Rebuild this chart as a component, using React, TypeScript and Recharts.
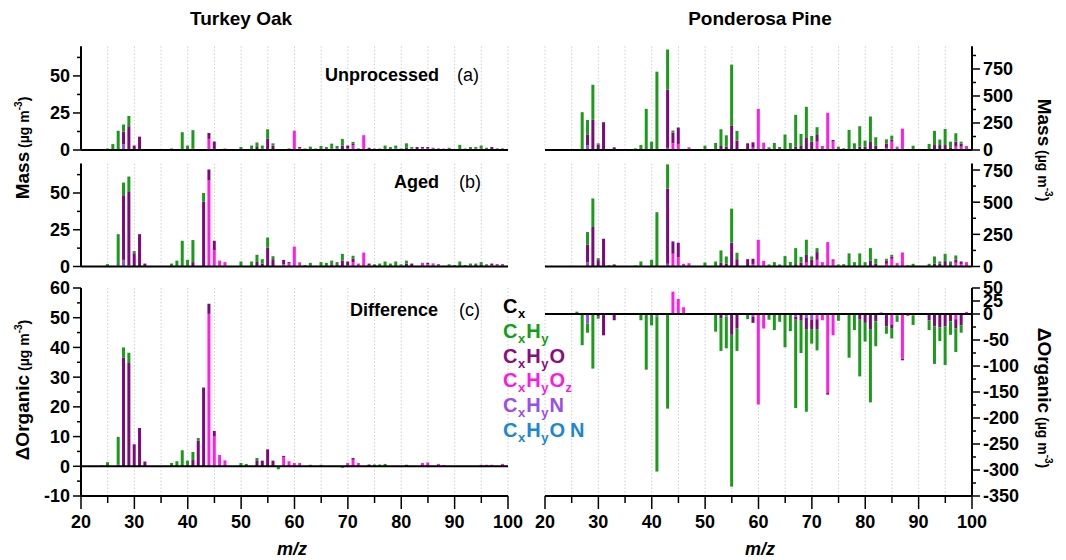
import React from "react";
import { BarChart, Bar, XAxis, YAxis, CartesianGrid, ReferenceLine } from "recharts";

// each row: m/z, CxHy, CxHyO, CxHyOz, CxHyN, CxHyON  (µg m-3)
type Row = [number, number, number, number, number, number];

const oakUnprocessed: Row[] = [
  [25, 1, 0, 0, 0, 0], [26, 4, 0, 0, 0, 0], [27, 13, 0, 0, 0, 0], [28, 4.8, 8.4, 0, 4, 0],
  [29, 7, 16, 0, 0, 0], [30, 0, 3, 0, 0, 0], [31, 0, 9, 0, 0, 0], [32, 0, 0.4, 0, 0, 0],
  [37, 1, 0, 0, 0, 0], [39, 12, 0, 0, 0, 0], [40, 3, 0, 0, 0, 0], [41, 12.4, 1, 0, 0, 0],
  [44, 0, 4, 7.5, 0, 0], [45, 0, 5, 0.7, 0, 0], [47, 0, 0, 1, 0, 0], [50, 2, 0, 0, 0, 0],
  [52, 3, 0, 0, 0, 0], [53, 3, 2, 0, 0, 0], [54, 2, 1, 0, 0, 0], [55, 6.5, 7.5, 0, 0, 0],
  [56, 1.5, 3, 0, 0, 0], [59, 0, 1, 0, 0, 0], [60, 0, 0, 13, 0, 0], [61, 0, 0.8, 1.2, 0, 0],
  [62, 1, 0, 0, 0, 0], [63, 2.3, 0, 0, 0, 0], [64, 1, 0, 0, 0, 0], [65, 2.7, 0, 0, 0, 0],
  [66, 2, 0, 0, 0, 0], [67, 3.3, 1, 0, 0, 0], [68, 1.7, 1, 0, 0, 0], [69, 4.5, 3, 0, 0, 0],
  [70, 0, 2, 1, 0, 0], [71, 1, 1.5, 3, 0, 0], [72, 0, 0.5, 0.5, 0, 0], [73, 0, 0, 10, 0, 0],
  [74, 0, 1.5, 0, 0, 0], [75, 0.5, 0.5, 0, 0, 0], [76, 1, 0, 0, 0, 0], [77, 3, 0, 0, 0, 0],
  [78, 2, 0, 0, 0, 0], [79, 2, 1, 0, 0, 0], [80, 1, 0, 0, 0, 0], [81, 3, 1.5, 0, 0, 0],
  [82, 1, 1, 0, 0, 0], [83, 0, 2, 0, 0, 0], [84, 0, 1, 1, 0, 0], [85, 0, 1, 1, 0, 0],
  [86, 0, 0.5, 1, 0, 0], [87, 0, 0.5, 0.5, 0, 0], [88, 0, 0, 1, 0, 0], [89, 1.5, 0, 0, 0, 0],
  [91, 3.5, 0, 0, 0, 0], [92, 1, 0, 0, 0, 0], [93, 1.5, 0.5, 0, 0, 0], [94, 1, 1, 0, 0, 0],
  [95, 2, 1, 0, 0, 0], [96, 1, 0.5, 0, 0, 0], [97, 0, 1.5, 0.5, 0, 0], [98, 0, 0.5, 0.5, 0, 0],
  [99, 0, 0.5, 0.5, 0, 0],
];

const oakAged: Row[] = [
  [24, 0.3, 0, 0, 0, 0], [25, 1.6, 0, 0, 0, 0], [27, 21, 0, 0, 1, 0], [28, 8.6, 44, 0, 4.5, 0],
  [29, 10.5, 50, 0, 0.7, 0], [30, 1.5, 9, 0, 0, 0], [31, 0, 22, 0, 0, 0], [32, 0, 2, 0, 0, 0],
  [37, 2, 0, 0, 0, 0], [38, 4, 0, 0, 0, 0], [39, 17.5, 0, 0, 0, 0], [40, 4, 0.5, 0, 0, 0],
  [41, 15, 3, 0, 0, 0], [43, 6, 44, 0, 0, 0], [44, 0, 7.5, 58, 0, 0.5], [45, 0, 6.5, 11, 0, 0],
  [46, 0, 0, 4, 0, 0], [47, 0, 0, 3, 0, 0], [49, 0.3, 0, 0, 0, 0], [50, 3.4, 0, 0, 0, 0],
  [52, 3.4, 0, 0, 0, 0], [53, 5, 3, 0, 0, 0], [54, 3, 2, 0, 0, 0], [55, 7, 12.7, 0, 0, 0],
  [56, 2, 5, 0, 0, 0], [58, 0, 3, 1.5, 0, 0], [59, 0, 1, 2, 0, 0], [60, 0, 0, 13.6, 0, 0],
  [61, 0, 0.7, 2, 0, 0], [62, 1, 0, 0, 0, 0], [63, 2.5, 0, 0, 0, 0], [64, 0.5, 0, 0, 0, 0],
  [65, 3, 0, 0, 0, 0], [66, 2.5, 0, 0, 0, 0], [67, 2.5, 1.5, 0, 0, 0], [68, 1.5, 1.5, 0, 0, 0],
  [69, 4.6, 4, 0, 0, 0], [70, 0, 2.4, 1, 0, 0], [71, 1.8, 2.5, 3, 0, 0], [72, 0, 0, 2, 0, 0],
  [73, 0, 0, 9.5, 0, 0], [74, 0, 1, 1, 0, 0], [75, 0.5, 1, 0, 0, 0], [76, 2, 0, 0, 0, 0],
  [77, 3.4, 0, 0, 0, 0], [78, 2, 0, 0, 0, 0], [79, 3.4, 0, 0, 0, 0], [80, 1, 0.5, 0, 0, 0],
  [81, 2, 2, 0, 0, 0], [82, 0, 2, 0, 0, 0], [84, 0, 0.5, 2, 0, 0], [85, 0, 1, 1.5, 0, 0],
  [86, 0, 0.5, 1.5, 0, 0], [87, 0, 0.5, 1, 0, 0], [88, 0.5, 0, 0, 0, 0], [89, 1.5, 0, 0, 0, 0],
  [90, 1, 0, 0, 0, 0], [91, 3.4, 0, 0, 0, 0], [92, 1, 0, 0, 0, 0], [93, 1.5, 0.5, 0, 0, 0],
  [94, 1, 1, 0, 0, 0], [95, 1.5, 1.5, 0, 0, 0], [96, 1, 0.5, 0, 0, 0], [97, 0, 1, 1, 0, 0],
  [98, 0, 0.5, 1, 0, 0], [99, 0, 0.5, 1, 0, 0],
];

const oakDifference: Row[] = [
  [24, 0.3, 0, 0, 0, 0], [25, 1.4, 0, 0, 0, 0], [27, 9.4, 0, 0, 0.5, 0], [28, 3.5, 36.5, 0, 0, 0],
  [29, 3.4, 34.8, 0, 0, 0], [30, 0, 7.4, 0, 0, 0], [31, 0, 12.9, 0, 0, 0], [32, 0, 1.6, 0, 0, 0],
  [37, 1.1, 0, 0, 0, 0], [38, 1.7, 0, 0, 0, 0], [39, 5.4, 0, 0, 0, 0], [40, 1.9, 0, 0, 0, 0],
  [41, 2.7, 2.1, 0, 0, 0], [42, 0.9, 8.6, 0, 0, 0], [43, 0, 26.5, 0, 0, 0], [44, 0, 3.4, 51, 0, 0.3],
  [45, 0, 1.9, 10, 0, 0], [46, 0, 0, 3.8, 0, 0], [47, 0, 0, 2, 0, 0], [50, 1.1, 0, 0, 0, 0],
  [51, 0.8, 0, 0, 0, 0], [53, 1, 1.8, 0, 0, 0], [54, 0, 1.9, 0, 0, 0], [55, 0, 5.7, 0, 0, 0],
  [56, 0, 1.9, 0, 0, 0], [57, -1, 0, 0, 0, 0], [58, 0, 0.5, 3, 0, 0], [59, 0, 0, 1.7, 0, 0],
  [60, 0, 0, 1.1, 0, 0], [61, 0, 0, 1.1, 0, 0], [63, 0.5, 0, 0, 0, 0], [65, 0.5, 0, 0, 0, 0],
  [69, -0.5, 0, 0, 0, 0], [70, 0, 0, 1.1, 0, 0], [71, 0, 0.6, 2.2, 0, 0], [72, 0, 0, 1.1, 0, 0],
  [74, 0, 0.6, 0, 0, 0], [75, 0.6, 0, 0, 0, 0], [76, 0.6, 0, 0, 0, 0], [77, 0.8, 0, 0, 0, 0],
  [81, 0, 0.5, 0, 0, 0], [84, 0, 0, 1.1, 0, 0], [85, 0, 0, 1.3, 0, 0], [87, 0, 0, 0.8, 0, 0],
  [88, 0, 0, 0.4, 0, 0], [95, 0, 0, 0.5, 0, 0], [96, 0, 0, 0.5, 0, 0], [97, 0, 0, 0.5, 0, 0],
  [99, 0, 0, 0.8, 0, 0],
];

const pineUnprocessed: Row[] = [
  [27, 350, 0, 0, 0, 0], [28, 133, 99, 0, 46, 0], [29, 325, 279, 0, 0, 0], [30, 10, 52, 0, 0, 0],
  [31, 0, 257, 0, 0, 0], [32, 0, 10, 0, 0, 0], [33, 0, 25, 0, 0, 0], [37, 15, 0, 0, 0, 0],
  [38, 46, 0, 0, 0, 0], [39, 381, 0, 0, 0, 0], [40, 70, 7, 0, 0, 0], [41, 725, 0, 0, 0, 0],
  [43, 372, 538, 0, 20, 0], [44, 19, 99, 62, 0, 0], [45, 0, 152, 56, 0, 0], [46, 0, 0, 10, 0, 0],
  [47, 0, 0, 25, 0, 0], [50, 40, 0, 0, 0, 0], [52, 65, 0, 0, 0, 0], [53, 155, 37, 0, 0, 0],
  [54, 105, 31, 0, 0, 0], [55, 567, 223, 0, 0, 0], [56, 90, 87, 0, 0, 0], [58, 0, 62, 0, 0, 0],
  [59, 0, 50, 21, 0, 0], [60, 0, 0, 381, 0, 0], [61, 0, 0, 68, 0, 0], [62, 25, 0, 0, 0, 0],
  [63, 65, 0, 0, 0, 0], [64, 28, 0, 0, 0, 0], [65, 143, 0, 0, 0, 0], [66, 65, 0, 0, 0, 0],
  [67, 295, 30, 0, 0, 0], [68, 112, 37, 0, 0, 0], [69, 282, 118, 0, 0, 0], [70, 53, 77, 0, 0, 0],
  [71, 72, 62, 77, 0, 0], [72, 0, 0, 37, 0, 0], [73, 0, 0, 344, 0, 0], [74, 0, 15, 78, 0, 0],
  [75, 15, 16, 0, 0, 0], [76, 16, 0, 0, 0, 0], [77, 186, 0, 0, 0, 0], [78, 62, 0, 0, 0, 0],
  [79, 190, 30, 0, 0, 0], [80, 57, 30, 0, 0, 0], [81, 236, 74, 0, 0, 0], [82, 78, 40, 0, 0, 0],
  [84, 39, 40, 20, 0, 0], [85, 36, 20, 77, 0, 0], [86, 0, 0, 31, 0, 0], [87, 0, 0, 198, 0, 0],
  [88, 0, 5, 5, 0, 0], [89, 40, 0, 0, 0, 0], [90, 5, 0, 0, 0, 0], [92, 56, 0, 0, 0, 0],
  [93, 131, 46, 0, 0, 0], [94, 50, 46, 0, 0, 0], [95, 149, 46, 0, 0, 0], [96, 52, 25, 0, 0, 0],
  [97, 78, 46, 31, 0, 0], [98, 17, 30, 30, 0, 0], [99, 0, 0, 37, 0, 0],
];

const pineAged: Row[] = [
  [25, 5, 0, 0, 0, 0], [28, 99, 135, 0, 34, 0], [29, 222, 307, 0, 0, 0], [30, 15, 50, 0, 0, 0],
  [31, 0, 216, 0, 0, 0], [32, 0, 8, 0, 0, 0], [33, 0, 16, 0, 0, 0], [37, 8, 0, 0, 0, 0],
  [38, 39, 0, 0, 0, 0], [40, 52, 0, 0, 0, 0], [41, 422, 0, 0, 0, 0], [43, 187, 586, 0, 21, 0],
  [44, 0, 96, 99, 0, 0], [45, 0, 112, 73, 0, 0], [46, 0, 0, 21, 0, 0], [47, 0, 0, 26, 0, 0],
  [50, 31, 0, 0, 0, 0], [52, 39, 0, 0, 0, 0], [53, 96, 29, 0, 0, 0], [54, 57, 21, 0, 0, 0],
  [55, 265, 185, 0, 0, 0], [56, 50, 57, 0, 0, 0], [58, 0, 57, 0, 0, 0], [59, 0, 40, 20, 0, 0],
  [60, 0, 0, 208, 0, 0], [61, 0, 0, 44, 0, 0], [62, 16, 0, 0, 0, 0], [63, 34, 0, 0, 0, 0],
  [64, 16, 0, 0, 0, 0], [65, 81, 0, 0, 0, 0], [66, 36, 0, 0, 0, 0], [67, 125, 18, 0, 0, 0],
  [68, 44, 31, 0, 0, 0], [69, 118, 60, 30, 0, 0], [70, 26, 52, 0, 0, 0], [71, 31, 60, 52, 0, 0],
  [72, 0, 0, 34, 0, 0], [73, 0, 0, 190, 0, 0], [74, 0, 10, 45, 0, 0], [75, 8, 8, 0, 0, 0],
  [76, 18, 0, 0, 0, 0], [77, 102, 0, 0, 0, 0], [78, 34, 0, 0, 0, 0], [79, 92, 10, 0, 0, 0],
  [80, 34, 0, 0, 0, 0], [81, 99, 44, 0, 0, 0], [82, 39, 21, 0, 0, 0], [84, 16, 23, 21, 0, 0],
  [85, 13, 18, 60, 0, 0], [86, 0, 0, 26, 0, 0], [87, 0, 0, 109, 0, 0], [88, 0, 4, 4, 0, 0],
  [89, 21, 0, 0, 0, 0], [90, 5, 0, 0, 0, 0], [92, 21, 0, 0, 0, 0], [93, 57, 21, 0, 0, 0],
  [94, 18, 21, 0, 0, 0], [95, 57, 42, 0, 0, 0], [96, 21, 18, 0, 0, 0], [97, 31, 26, 29, 0, 0],
  [98, 0, 19, 20, 0, 0], [99, 0, 0, 34, 0, 0],
];

const pineDifference: Row[] = [
  [26, 4.5, 0, 0, 0, 0], [27, -60, 0, 0, 0, 0], [28, -18, 0, 0, -18, 0], [29, -105, 0, 0, 0, 0],
  [30, -4, -5, 0, 0, 0], [31, 0, -41, 0, 0, 0], [33, 0, -12, 0, 0, 0], [37, -2, 0, 0, 0, 0],
  [38, -12, 0, 0, 0, 0], [39, -107, 0, 0, 0, 0], [40, -22, 0, 0, 0, 0], [41, -298, 0, 0, -5, 0],
  [43, -182, 0, 0, 0, 0], [44, 0, 0, 43, 0, 0], [45, 0, 0, 29, 0, 0], [46, 0, 0, 13, 0, 0],
  [52, -34, 0, 0, 0, 0], [53, -63, -8, 0, 0, 0], [54, -61, 0, 0, -5, 0], [55, -292, -40, 0, 0, 0],
  [56, -43, -28, 0, 0, 0], [58, -10, 0, 0, 0, 0], [59, 0, -12, -5, 0, 0], [60, 0, 0, -174, 0, 0],
  [61, 0, 0, -28, 0, 0], [62, -11, 0, 0, 0, 0], [63, -31, 0, 0, 0, 0], [64, -15, 0, 0, 0, 0],
  [65, -64, 0, 0, 0, 0], [66, -33, 0, 0, 0, 0], [67, -170, -6, 0, -5, 0], [68, -62, -13, 0, 0, 0],
  [69, -159, -22, 0, -7, 0], [70, -28, -18, 0, -11, 0], [71, -41, -19, -10, 0, 0], [72, 0, 0, -12, 0, 0],
  [73, 0, -3, -152, 0, 0], [74, 0, 0, -41, 0, 0], [75, -13, 0, 0, 0, 0], [76, -1, 0, 0, 0, 0],
  [77, -84, 0, 0, 0, 0], [78, -31, 0, 0, 0, 0], [79, -109, -11, 0, 0, 0], [80, -36, -17, 0, 0, 0],
  [81, -141, -29, 0, 0, 0], [82, -48, -14, 0, 0, 0], [83, 0, 0, 3, 0, -2], [84, -14, -22, 0, 0, -2],
  [85, -20, -7, -20, 0, 0], [86, -12, 0, -3, 0, 0], [87, 0, -3, -86, 0, 0], [88, 0, 0, -4, 0, 0],
  [89, -18, 0, -3, 0, 0], [92, -19, -12, 0, 0, 0], [93, -72, -24, 0, 0, 0], [94, -26, -26, 0, 0, 0],
  [95, -74, -24, 0, 0, 0], [96, -26, -14, 0, 0, 0], [97, -45, -18, -10, 0, 0], [98, -14, -22, 0, 0, 0],
  [99, 0, 0, 4, 0, 0],
];

const mzTicks = [20, 25, 30, 35, 40, 45, 50, 55, 60, 65, 70, 75, 80, 85, 90, 95, 100];
const mzMajor = [20, 30, 40, 50, 60, 70, 80, 90, 100];

const oakMassTicks = [0, 12.5, 25, 37.5, 50, 62.5];
const oakMassMajor = [0, 25, 50];
const oakDiffTicks = [-10, -5, 0, 5, 10, 15, 20, 25, 30, 35, 40, 45, 50, 55, 60];
const oakDiffMajor = [-10, 0, 10, 20, 30, 40, 50, 60];
const pineMassTicks = [0, 125, 250, 375, 500, 625, 750, 875];
const pineMassMajor = [0, 250, 500, 750];
const pineDiffTicks = [50, 25, 0, -25, -50, -75, -100, -125, -150, -175, -200, -225, -250, -275, -300, -325, -350];
const pineDiffMajor = [50, 25, 0, -50, -100, -150, -200, -250, -300, -350];

// stacked bottom-up
const SERIES = [
  { key: "on", color: "#1a88d2" },
  { key: "n", color: "#9b4fe6" },
  { key: "oz", color: "#ff1ee8" },
  { key: "o", color: "#7d0a7a" },
  { key: "hy", color: "#1c9a1c" },
];

const LEGEND: { parts: [string, string][]; color: string }[] = [
  { parts: [["C", "x"]], color: "#000000" },
  { parts: [["C", "x"], ["H", "y"]], color: "#14a014" },
  { parts: [["C", "x"], ["H", "y"], ["O", ""]], color: "#8b0d82" },
  { parts: [["C", "x"], ["H", "y"], ["O", "z"]], color: "#ff19e0" },
  { parts: [["C", "x"], ["H", "y"], ["N", ""]], color: "#9b4fe6" },
  { parts: [["C", "x"], ["H", "y"], ["O", ""], ["N", ""]], color: "#1a88d2" },
];

const FONT = "'Liberation Sans', Arial, sans-serif";

function toRows(rows: Row[]) {
  return rows.map(([mz, hy, o, oz, n, on]) => ({ mz, hy, o, oz, n, on }));
}

function YTick(props: any) {
  const { x, y, payload, side, major } = props;
  const isMajor = major.includes(payload.value);
  const dir = side === "left" ? -1 : 1;
  const len = isMajor ? 8 : 4;
  return (
    <g>
      <line x1={x} x2={x + dir * len} y1={y} y2={y} stroke="#000" strokeWidth={1.5} />
      {isMajor && (
        <text
          x={x + dir * 11}
          y={y}
          dy="0.36em"
          textAnchor={side === "left" ? "end" : "start"}
          fontFamily={FONT}
          fontWeight="bold"
          fontSize={18}
          fill="#000"
        >
          {payload.value}
        </text>
      )}
    </g>
  );
}

function XTick(props: any) {
  const { x, y, payload } = props;
  const isMajor = mzMajor.includes(payload.value);
  return (
    <g>
      <line x1={x} x2={x} y1={y} y2={y + (isMajor ? 13 : 7)} stroke="#000" strokeWidth={1.5} />
      {isMajor && (
        <text x={x} y={y + 32} textAnchor="middle" fontFamily={FONT} fontWeight="bold" fontSize={18} fill="#000">
          {payload.value}
        </text>
      )}
    </g>
  );
}

type PanelProps = {
  rows: Row[];
  left: number;
  top: number;
  width: number;
  height: number;
  margin: { top: number; right: number; bottom: number; left: number };
  side: "left" | "right";
  axisWidth: number;
  yDomain: [number, number];
  yTicks: number[];
  yMajor: number[];
  showX: boolean;
};

function SpectrumPanel(p: PanelProps) {
  return (
    <div style={{ position: "absolute", left: p.left, top: p.top }}>
      <BarChart width={p.width} height={p.height} data={toRows(p.rows)} margin={p.margin} stackOffset="sign">
        <CartesianGrid horizontal={false} stroke="#cfcfcf" strokeDasharray="1.5 2" />
        <XAxis
          type="number"
          dataKey="mz"
          domain={[20, 100]}
          ticks={mzTicks}
          interval={0}
          hide={!p.showX}
          height={40}
          axisLine={{ stroke: "#000", strokeWidth: 2 }}
          tickLine={false}
          tickSize={0}
          tickMargin={0}
          tick={(t: any) => <XTick {...t} />}
        />
        <YAxis
          orientation={p.side}
          domain={p.yDomain}
          ticks={p.yTicks}
          interval={0}
          width={p.axisWidth}
          axisLine={{ stroke: "#000", strokeWidth: 2 }}
          tickLine={false}
          tickSize={0}
          tickMargin={0}
          tick={(t: any) => <YTick {...t} side={p.side} major={p.yMajor} />}
        />
        {SERIES.map((s) => (
          <Bar key={s.key} dataKey={s.key} stackId="ms" fill={s.color} barSize={3} isAnimationActive={false} />
        ))}
        <ReferenceLine y={0} stroke="#000" strokeWidth={2} />
      </BarChart>
    </div>
  );
}

function Formula({ x, y, parts, color }: { x: number; y: number; parts: [string, string][]; color: string }) {
  const spans: React.ReactNode[] = [];
  let lowered = false;
  parts.forEach(([main, sub], i) => {
    // a little air between adjacent capitals, as in "O N"
    const gap = i > 0 && !parts[i - 1][1] ? 5 : 1;
    spans.push(
      <tspan key={`m${i}`} dx={i > 0 ? gap : 0} dy={lowered ? -5 : 0}>
        {main}
      </tspan>
    );
    lowered = false;
    if (sub) {
      spans.push(
        <tspan key={`s${i}`} fontSize={13} dx={0.5} dy={5}>
          {sub}
        </tspan>
      );
      lowered = true;
    }
  });
  return (
    <text x={x} y={y} fill={color} fontFamily={FONT} fontWeight="bold" fontSize={20}>
      {spans}
    </text>
  );
}

function UnitLabel({ x, y, rotate, name }: { x: number; y: number; rotate: number; name: string }) {
  return (
    <text
      x={x}
      y={y}
      transform={`rotate(${rotate} ${x} ${y})`}
      textAnchor="middle"
      fontFamily={FONT}
      fontWeight="bold"
      fill="#000"
      fontSize={19}
    >
      <tspan>{name}</tspan>
      <tspan fontSize={14}> (µg m</tspan>
      <tspan fontSize={10} dy={-7}>-3</tspan>
      <tspan fontSize={14} dy={7}>)</tspan>
    </text>
  );
}

export default function App() {
  const leftCol = { left: 0, width: 540, side: "left" as const, axisWidth: 81 };
  const rightCol = { left: 530, width: 536, side: "right" as const, axisWidth: 94 };
  const leftMargin = (t: number, b: number) => ({ top: t, right: 32, bottom: b, left: 0 });
  const rightMargin = (t: number, b: number) => ({ top: t, right: 0, bottom: b, left: 15 });

  return (
    <div style={{ position: "relative", width: 1066, height: 560, background: "#fff", overflow: "hidden" }}>
      <style>{"body{margin:0}"}</style>

      <SpectrumPanel {...leftCol} rows={oakUnprocessed} top={34} height={128} margin={leftMargin(12.3, 12)}
        yDomain={[0, 70]} yTicks={oakMassTicks} yMajor={oakMassMajor} showX={false} />
      <SpectrumPanel {...leftCol} rows={oakAged} top={151} height={128} margin={leftMargin(12.6, 12.5)}
        yDomain={[0, 70]} yTicks={oakMassTicks} yMajor={oakMassMajor} showX={false} />
      <SpectrumPanel {...leftCol} rows={oakDifference} top={276} height={260} margin={leftMargin(12, 0)}
        yDomain={[-10, 60]} yTicks={oakDiffTicks} yMajor={oakDiffMajor} showX />

      <SpectrumPanel {...rightCol} rows={pineUnprocessed} top={34} height={128} margin={rightMargin(12.3, 12)}
        yDomain={[0, 960]} yTicks={pineMassTicks} yMajor={pineMassMajor} showX={false} />
      <SpectrumPanel {...rightCol} rows={pineAged} top={151} height={128} margin={rightMargin(12.6, 12.5)}
        yDomain={[0, 800]} yTicks={pineMassTicks.slice(0, 7)} yMajor={pineMassMajor} showX={false} />
      <SpectrumPanel {...rightCol} rows={pineDifference} top={276} height={260} margin={rightMargin(12, 0)}
        yDomain={[-350, 50]} yTicks={pineDiffTicks} yMajor={pineDiffMajor} showX />

      <svg width={1066} height={560} style={{ position: "absolute", left: 0, top: 0, pointerEvents: "none" }}>
        <g fontFamily={FONT} fill="#000">
          <text x={241} y={25} textAnchor="middle" fontWeight="bold" fontSize={19}>Turkey Oak</text>
          <text x={760} y={25} textAnchor="middle" fontWeight="bold" fontSize={19}>Ponderosa Pine</text>

          <text x={439} y={81} textAnchor="end" fontWeight="bold" fontSize={18}>Unprocessed</text>
          <text x={457} y={81} fontSize={18}>(a)</text>
          <text x={439} y={188} textAnchor="end" fontWeight="bold" fontSize={18}>Aged</text>
          <text x={459} y={188} fontSize={18}>(b)</text>
          <text x={438} y={316} textAnchor="end" fontWeight="bold" fontSize={18}>Difference</text>
          <text x={459} y={316} fontSize={18}>(c)</text>

          <text x={292} y={555} textAnchor="middle" fontWeight="bold" fontStyle="italic" fontSize={18}>m/z</text>
          <text x={760} y={555} textAnchor="middle" fontWeight="bold" fontStyle="italic" fontSize={18}>m/z</text>
        </g>

        {LEGEND.map((l, i) => (
          <Formula key={i} x={503} y={313 + i * 24.8} parts={l.parts} color={l.color} />
        ))}

        <UnitLabel x={29} y={148} rotate={-90} name="Mass" />
        <UnitLabel x={29} y={390} rotate={-90} name="ΔOrganic" />
        <UnitLabel x={1038} y={150} rotate={90} name="Mass" />
        <UnitLabel x={1038} y={398} rotate={90} name="ΔOrganic" />
      </svg>
    </div>
  );
}
